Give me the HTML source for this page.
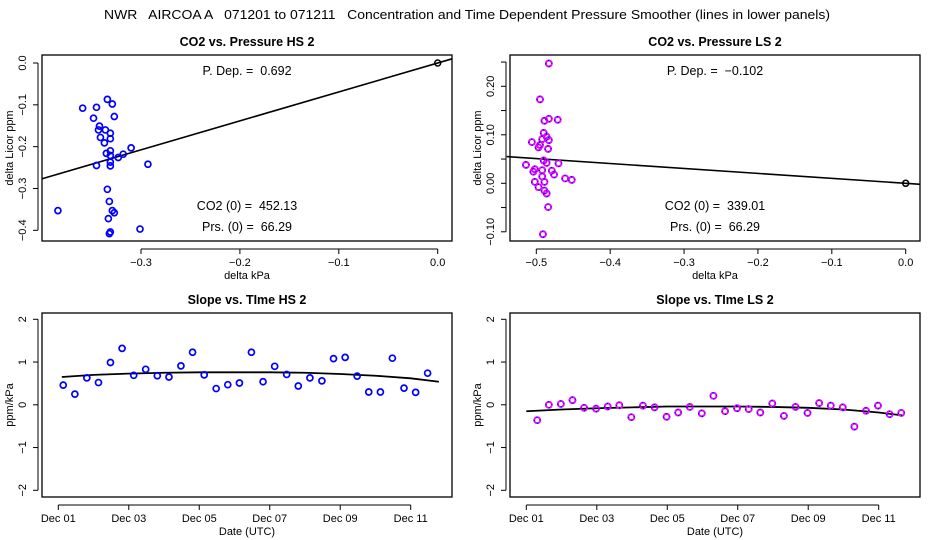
<!DOCTYPE html>
<html><head><meta charset="utf-8"><style>
html,body{margin:0;padding:0;background:#fff}
svg{display:block;font-family:"Liberation Sans",sans-serif}
svg text{white-space:pre}
</style></head><body>
<svg id="chart" width="936" height="540" viewBox="0 0 936 540" xmlns="http://www.w3.org/2000/svg" xml:space="preserve">
<rect width="936" height="540" fill="#fff"/>
<text x="467" y="19" font-size="13" text-anchor="middle" textLength="726" lengthAdjust="spacingAndGlyphs">NWR   AIRCOA A   071201 to 071211   Concentration and Time Dependent Pressure Smoother (lines in lower panels)</text>
</svg>
<script>
// ---- data: top-left (HS pressure) ----
const hsDP = [-0.359,-0.345,-0.348,-0.334,-0.329,-0.327,-0.342,-0.343,-0.336,-0.331,-0.341,-0.331,-0.337,-0.310,-0.318,-0.323,-0.335,-0.331,-0.331,-0.331,-0.331,-0.345,-0.293,-0.334,-0.332,-0.329,-0.327,-0.384,-0.333,-0.301,-0.331,-0.332];
const hsDC = [-0.108,-0.106,-0.132,-0.087,-0.098,-0.128,-0.151,-0.160,-0.160,-0.168,-0.178,-0.181,-0.191,-0.203,-0.218,-0.226,-0.216,-0.210,-0.221,-0.237,-0.246,-0.245,-0.242,-0.302,-0.331,-0.353,-0.358,-0.353,-0.372,-0.397,-0.404,-0.408];
const hsPDep = 0.692;
// ---- data: top-right (LS pressure) ----
const lsDP = [-0.483,-0.495,-0.489,-0.483,-0.471,-0.490,-0.486,-0.483,-0.506,-0.492,-0.495,-0.497,-0.484,-0.514,-0.490,-0.486,-0.470,-0.502,-0.504,-0.492,-0.479,-0.476,-0.492,-0.461,-0.452,-0.502,-0.489,-0.497,-0.489,-0.486,-0.484,-0.491];
const lsDC = [0.247,0.173,0.129,0.133,0.131,0.104,0.096,0.089,0.085,0.091,0.079,0.074,0.071,0.038,0.047,0.042,0.041,0.029,0.024,0.027,0.026,0.018,0.014,0.010,0.007,0.003,0.003,-0.008,-0.015,-0.021,-0.049,-0.105];
const lsPDep = -0.102;
// ---- data: bottom-left (HS slope vs time), days since Dec 01 ----
const hsDays = [0.14,0.47,0.81,1.14,1.48,1.81,2.14,2.48,2.81,3.14,3.48,3.81,4.14,4.48,4.81,5.14,5.48,5.81,6.14,6.48,6.81,7.14,7.48,7.81,8.14,8.48,8.81,9.14,9.48,9.81,10.14,10.48];
const hsSlope = [0.46,0.25,0.63,0.52,0.99,1.32,0.69,0.83,0.68,0.65,0.91,1.23,0.70,0.38,0.47,0.51,1.23,0.54,0.90,0.71,0.44,0.63,0.56,1.08,1.11,0.67,0.30,0.30,1.09,0.39,0.29,0.74];
const hsSmDays = [0.1,1,2,3,4,5,6,7,8,9,10,10.8];
const hsSmVals = [0.65,0.70,0.73,0.75,0.76,0.76,0.76,0.75,0.72,0.68,0.62,0.54];
// ---- data: bottom-right (LS slope vs time) ----
const lsDays = [0.31,0.64,0.98,1.31,1.64,1.98,2.31,2.64,2.98,3.31,3.64,3.98,4.31,4.64,4.98,5.31,5.64,5.98,6.31,6.64,6.98,7.31,7.64,7.98,8.31,8.64,8.98,9.31,9.64,9.98,10.31,10.64];
const lsSlope = [-0.36,0.00,0.02,0.11,-0.07,-0.09,-0.04,-0.01,-0.29,-0.02,-0.06,-0.28,-0.18,-0.05,-0.20,0.21,-0.15,-0.08,-0.10,-0.18,0.03,-0.26,-0.05,-0.19,0.04,-0.02,-0.06,-0.51,-0.14,-0.02,-0.22,-0.19];
const lsSmDays = [0.0,1,2,3,4,5,6,7,8,9,10,10.7];
const lsSmVals = [-0.15,-0.11,-0.08,-0.06,-0.04,-0.04,-0.04,-0.05,-0.07,-0.11,-0.18,-0.25];
const dateTicks = [0,2,4,6,8,10];
const dateLabels = ["Dec 01","Dec 03","Dec 05","Dec 07","Dec 09","Dec 11"];
const slopeTicks = [-2,-1,0,1,2];

const NS="http://www.w3.org/2000/svg";
const svg=document.getElementById('chart');
function mk(tag,attrs,parent){const e=document.createElementNS(NS,tag);for(const k in attrs)e.setAttribute(k,attrs[k]);(parent||svg).appendChild(e);return e;}
function lin(d0,d1,p0,p1){return v=>p0+(v-d0)*(p1-p0)/(d1-d0);}

function panel(o){
  const g=mk('g',{});
  
  
  const L=o.L,R=o.L+410,T=o.T,B=o.B;
  const bx=mk('rect',{x:L,y:T,width:R-L,height:B-T,fill:'none',stroke:'#000','stroke-width':1.3},g);
  
  
  const t=mk('text',{x:(L+R)/2,y:o.T-9,'font-size':12.5,'font-weight':'bold','text-anchor':'middle'},g);
  t.textContent=o.title;
  
  
  const xa=mk('g',{},g);
  
  
  const xt=o.xTicks, xmin=o.x(xt[0]), xmax=o.x(xt[xt.length-1]);
  mk('line',{x1:xmin,x2:xmax,y1:B+8,y2:B+8,stroke:'#000'},xa);
  xt.forEach((v,i)=>{const px=o.x(v);mk('line',{x1:px,x2:px,y1:B+8,y2:B+13,stroke:'#000'},xa);
    const tl=mk('text',{x:px,y:B+25,'font-size':11,'text-anchor':'middle'},xa);tl.textContent=o.xLabels[i];
    
    });
  const xl=mk('text',{x:(L+R)/2,y:B+38,'font-size':11,'text-anchor':'middle'},g);xl.textContent=o.xlab;
  
  
  const ya=mk('g',{},g);
  
  
  const yt=o.yTicks;
  mk('line',{x1:L-4,x2:L-4,y1:o.y(yt[0]),y2:o.y(yt[yt.length-1]),stroke:'#000'},ya);
  yt.forEach((v,i)=>{const py=o.y(v);mk('line',{x1:L-9,x2:L-4,y1:py,y2:py,stroke:'#000'},ya);
    if(o.yLabels[i]!==''){const tl=mk('text',{x:0,y:0,'font-size':11,'text-anchor':'middle',transform:`translate(${L-16},${py}) rotate(-90)`},ya);tl.textContent=o.yLabels[i];
    
    }});
  const yl=mk('text',{x:0,y:0,'font-size':11,'text-anchor':'middle',transform:`translate(${L-29},${(T+B)/2}) rotate(-90)`},g);yl.textContent=o.ylab;
  
  
  return g;
}
function pts(g,xs,ys,x,y,magenta){
  const pg=mk('g',{},g);
  
  
  xs.forEach((v,i)=>{
    const c=mk('circle',{cx:x(v),cy:y(ys[i]),r:3,fill:'none',stroke:'#0000ff','stroke-width':1.7},pg);
    
    
    if(magenta){const m=mk('circle',{cx:x(v),cy:y(ys[i]),r:3,fill:'none',stroke:'#ff00ff','stroke-width':1.7,'stroke-dasharray':'3.5 1.2'},pg);
      
      }
  });
}

{
  const x=lin(-0.3,0,141,437.7), y=lin(0,-0.4,63,230.3);
  const g=panel({name:'panel-co2-vs-pressure-hs',L:42,T:55,B:241,x,y,title:'CO2 vs. Pressure HS 2',
    xTicks:[-0.3,-0.2,-0.1,0],xLabels:['\u22120.3','\u22120.2','\u22120.1','0.0'],xlab:'delta kPa',
    yTicks:[-0.4,-0.3,-0.2,-0.1,0],yLabels:['\u22120.4','\u22120.3','\u22120.2','\u22120.1','0.0'],ylab:'delta Licor ppm'});
  const x0=-0.4,x1=0.0145;
  const ln=mk('line',{x1:x(x0),y1:y(hsPDep*x0),x2:x(x1),y2:y(hsPDep*x1),stroke:'#000','stroke-width':1.6},g);
  
  
  pts(g,hsDP,hsDC,x,y,false);
  const o=mk('circle',{cx:x(0),cy:y(0),r:3,fill:'none',stroke:'#000','stroke-width':1.5},g);
  
  
  [['P. Dep. =  0.692',75],['CO2 (0) =  452.13',210],['Prs. (0) =  66.29',231]].forEach(a=>{
    const t=mk('text',{x:247,y:a[1],'font-size':12.5,'text-anchor':'middle'},g);t.textContent=a[0];
    
    });
}
{
  const x=lin(-0.5,0,536.3,905.7), y=lin(0,0.2,183.3,86.3);
  const g=panel({name:'panel-co2-vs-pressure-ls',L:510,T:55,B:241,x,y,title:'CO2 vs. Pressure LS 2',
    xTicks:[-0.5,-0.4,-0.3,-0.2,-0.1,0],xLabels:['\u22120.5','\u22120.4','\u22120.3','\u22120.2','\u22120.1','0.0'],xlab:'delta kPa',
    yTicks:[-0.1,-0.05,0,0.05,0.1,0.15,0.2,0.25],yLabels:['\u22120.10','','0.00','','0.10','','0.20',''],ylab:'delta Licor ppm'});
  const x0=-0.54,x1=0.02;
  const ln=mk('line',{x1:x(x0),y1:y(lsPDep*x0),x2:x(x1),y2:y(lsPDep*x1),stroke:'#000','stroke-width':1.6},g);
  
  
  pts(g,lsDP,lsDC,x,y,true);
  const o=mk('circle',{cx:x(0),cy:y(0),r:3,fill:'none',stroke:'#000','stroke-width':1.5},g);
  
  
  [['P. Dep. =  \u22120.102',75],['CO2 (0) =  339.01',210],['Prs. (0) =  66.29',231]].forEach(a=>{
    const t=mk('text',{x:715,y:a[1],'font-size':12.5,'text-anchor':'middle'},g);t.textContent=a[0];
    
    });
}
function slopePanel(name,L,title,days,vals,smD,smV,mag,dayPx0){
  const x=lin(0,10,dayPx0,dayPx0+352.4), y=lin(0,2,404.8,319.3);
  const g=panel({name,L,T:313,B:497,x,y,title,xTicks:dateTicks,xLabels:dateLabels,xlab:'Date (UTC)',
    yTicks:slopeTicks,yLabels:slopeTicks.map(v=>v<0?'\u2212'+(-v):''+v),ylab:'ppm/kPa'});
  const p=mk('polyline',{points:smD.map((d,i)=>x(d)+','+y(smV[i])).join(' '),fill:'none',stroke:'#000','stroke-width':1.8},g);
  
  
  pts(g,days,vals,x,y,mag);
}
slopePanel('panel-slope-vs-time-hs',42,'Slope vs. TIme HS 2',hsDays,hsSlope,hsSmDays,hsSmVals,false,58.3);
slopePanel('panel-slope-vs-time-ls',510,'Slope vs. TIme LS 2',lsDays,lsSlope,lsSmDays,lsSmVals,true,526.3);
</script>
</body></html>
